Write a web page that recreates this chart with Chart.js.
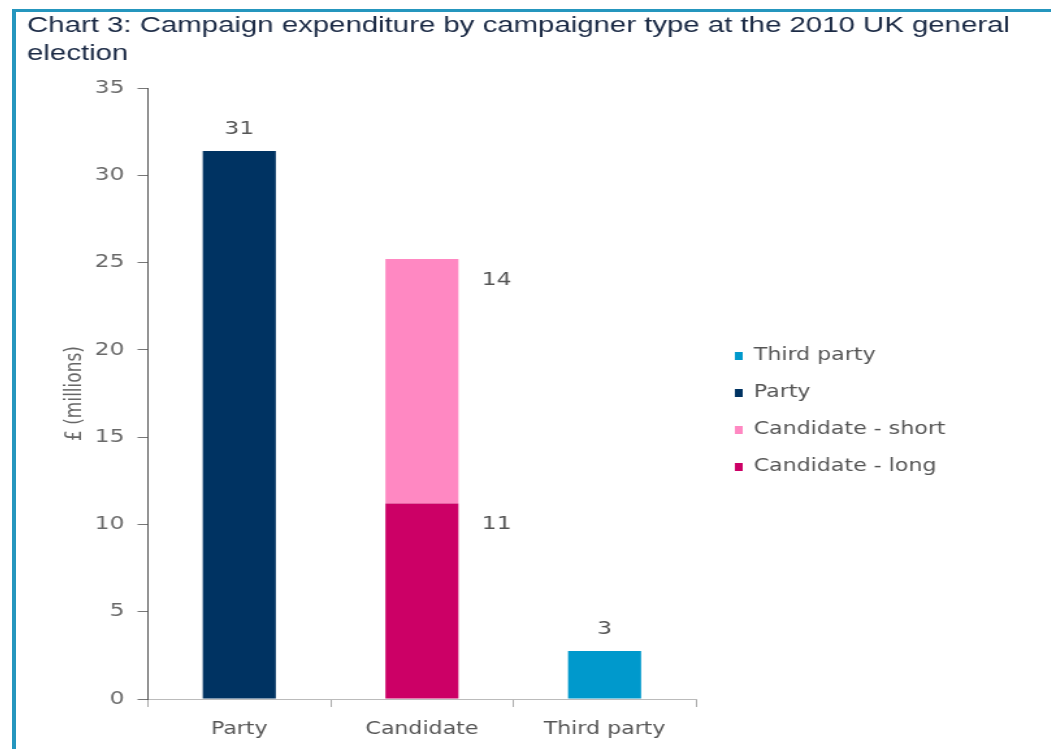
<!DOCTYPE html>
<html>
<head>
<meta charset="utf-8">
<script src="https://cdn.jsdelivr.net/npm/chart.js@4.4.1/dist/chart.umd.min.js"></script>
<style>
    html, body { margin: 0; padding: 0; background: #fff; overflow: hidden; }
    .frame {
        position: absolute; left: 12px; top: 9px;
        width: 1060px; height: 760px;
        border-top: 3px solid #2596be; border-left: 4px solid #2596be;
    }
    /* the whole drawing is widened a little, like the printed original */
    .stretch { position: absolute; left: 0; top: 0; transform: scaleX(1.3); transform-origin: 0 0; }
</style>
</head>
<body>
<div class="frame"><div class="stretch"><canvas id="spendChart" width="800" height="735"></canvas></div></div>
<script>
// Campaign spending in £ millions
const categories = ['Party', 'Candidate', 'Third party'];
const candidateLong = [null, 11.2, null];
const candidateShort = [null, 14.0, null];
const partySpend = [31.4, null, null];
const thirdPartySpend = [null, null, 2.75];

const yMin = 0;
const yMax = 35;
const yStep = 5;

const titleLines = ['Chart 3: Campaign expenditure by campaigner type at the 2010 UK general', 'election'];
const axisFont = 'DejaVu Sans';

document.addEventListener('DOMContentLoaded',() =>
{
    // Rounded value written above or beside each bar segment
    const valueLabels = {
        id: 'valueLabels',
        afterDatasetsDraw(chart)
        {
            const ctx = chart.ctx;
            ctx.save();
            ctx.font = '18px ' + axisFont;
            ctx.fillStyle = '#555';
            ctx.textBaseline = 'middle';
            chart.data.datasets.forEach((ds,i) =>
            {
                const meta = chart.getDatasetMeta(i);
                meta.data.forEach((bar,j) =>
                {
                    const v = ds.data[j];
                    if (v === null) return;
                    const text = String(Math.round(v));
                    if (ds.labelSide === 'right')
                    {
                        ctx.textAlign = 'left';
                        ctx.fillText(text,bar.x + bar.width / 2 + 18,bar.y + 21);
                    }
                    else
                    {
                        ctx.textAlign = 'center';
                        ctx.fillText(text,bar.x,bar.y - 22);
                    }
                });
            });
            ctx.restore();
        }
    };

    // The layout caps the side legend's width and the title's width;
    // give both room to the right and move the legend off the plot a little
    const boxTweaks = {
        id: 'boxTweaks',
        afterLayout(chart)
        {
            const lg = chart.legend;
            lg.left += 10;
            lg.right = lg.left + 260;
            lg.width = lg.right - lg.left;
            lg.top += 32; lg.bottom += 32;

            const tb = chart.titleBlock;
            tb.right = chart.width - 10;
            tb.width = tb.right - tb.left;
        }
    };

    const ctx = document.getElementById('spendChart').getContext('2d');
    new Chart(ctx,{
        type: 'bar',
        data: {
            labels: categories,
            datasets: [
                { label: 'Candidate - long', data: candidateLong, backgroundColor: '#cc0066', labelSide: 'right' },
                { label: 'Candidate - short', data: candidateShort, backgroundColor: '#ff88c2', labelSide: 'right' },
                { label: 'Party', data: partySpend, backgroundColor: '#003362', labelSide: 'top' },
                { label: 'Third party', data: thirdPartySpend, backgroundColor: '#0099cc', labelSide: 'top' }
            ]
        },
        options: {
            responsive: false,
            animation: false,
            layout: { padding: { left: 8.5, top: 0, right: 105.5, bottom: 0 } },
            datasets: {
                bar: { categoryPercentage: 1, barPercentage: 0.4, skipNull: true }
            },
            scales: {
                x: {
                    stacked: true,
                    grid: { offset: true, drawOnChartArea: false, tickLength: 8, color: '#aaa' },
                    border: { color: '#bbb' },
                    ticks: { color: '#555', padding: 12, font: { family: axisFont, size: 17 } },
                    afterFit: (scale) => { scale.height = 48; }
                },
                y: {
                    stacked: true,
                    min: yMin,
                    max: yMax,
                    grid: { drawOnChartArea: false, tickLength: 8, color: '#777' },
                    border: { color: '#555' },
                    ticks: { stepSize: yStep, color: '#6a6a6a', padding: 10, font: { family: axisFont, size: 18 } },
                    title: {
                        display: true,
                        text: '£ (millions)',
                        color: '#666',
                        font: { family: axisFont, size: 17 },
                        padding: { top: 27, bottom: 0 }
                    },
                    afterFit: (scale) => { scale.width = 93; }
                }
            },
            plugins: {
                title: {
                    display: true,
                    text: titleLines,
                    align: 'start',
                    color: '#1b2a45',
                    font: { family: 'Liberation Sans', size: 22.6, weight: 'normal', lineHeight: 1.24 },
                    padding: { top: 0, bottom: 20 }
                },
                legend: {
                    position: 'right',
                    reverse: true,
                    labels: {
                        boxWidth: 6,
                        boxHeight: 8,
                        padding: 20,
                        color: '#555',
                        font: { family: axisFont, size: 17 }
                    }
                },
                tooltip: { enabled: false }
            }
        },
        plugins: [valueLabels,boxTweaks]
    });
});
</script>
</body>
</html>
